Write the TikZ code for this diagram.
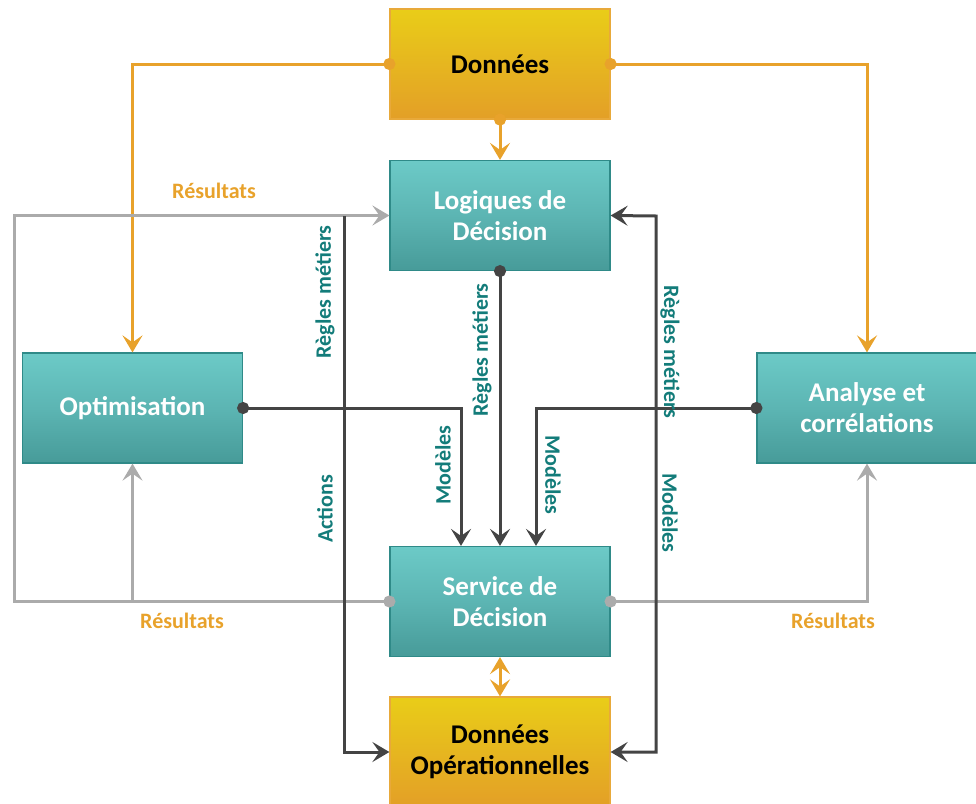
\documentclass[tikz,border=0pt]{standalone}
\usepackage{fontspec}
\setmainfont{Carlito}
\usetikzlibrary{arrows.meta}
\definecolor{tealtop}{HTML}{6CCAC7}
\definecolor{tealmid}{HTML}{5CB5B3}
\definecolor{tealbot}{HTML}{479B99}
\definecolor{tealborder}{HTML}{2F8A88}
\definecolor{goldtop}{HTML}{E9CD18}
\definecolor{goldbot}{HTML}{E39F27}
\definecolor{goldborder}{HTML}{E8A93A}
\definecolor{orangeline}{HTML}{E8A22B}
\definecolor{greyline}{HTML}{ABABAB}
\definecolor{darkline}{HTML}{444444}
\definecolor{labelteal}{HTML}{137C7A}
\tikzset{myarr/.tip={Stealth[length=17pt,width=20pt,inset=7pt]},
  mydot/.tip={Circle[length=12pt]}}
\begin{document}
\begin{tikzpicture}[x=1pt,y=-1pt,
  tealbox/.style={draw=tealborder, line width=1.2pt, top color=tealtop, bottom color=tealbot, middle color=tealmid,
    minimum width=220pt, minimum height=110pt, inner sep=0pt, text=white,
    font=\fontsize{27}{31}\selectfont\bfseries, align=center},
  goldbox/.style={draw=goldborder, line width=1.2pt, top color=goldtop, bottom color=goldbot,
    minimum width=220pt, minimum height=110pt, inner sep=0pt, text=black,
    font=\fontsize{27}{31}\selectfont\bfseries, align=center},
  dotstart/.style={shorten <=-6pt},
  oline/.style={draw=orangeline, line width=3pt},
  gline/.style={draw=greyline, line width=3pt},
  dline/.style={draw=darkline, line width=3pt},
  lbl/.style={font=\fontsize{22}{24}\selectfont\bfseries, text=labelteal, inner sep=0pt},
  olbl/.style={font=\fontsize{22}{24}\selectfont\bfseries, text=orangeline, inner sep=0pt},
]
\useasboundingbox (0,0) rectangle (976,803);

% boxes
\node[goldbox] (don) at (500,64) {Données};
\node[tealbox] (log) at (500,215.5) {Logiques de\\Décision};
\node[tealbox] (opt) at (132.5,408) {Optimisation};
\node[tealbox] (ana) at (867,408) {Analyse et\\corrélations};
\node[tealbox] (svc) at (500,601.5) {Service de\\Décision};
\node[goldbox] (dop) at (500,752) {Données\\Opérationnelles};

% helper coordinates
\coordinate (gleft) at (14,601.5);
\coordinate (rlA) at (344,216);
\coordinate (rrA) at (656,216);

% orange connectors
\draw[oline, mydot-myarr, dotstart] (don.west) -| (opt.north);
\draw[oline, mydot-myarr, dotstart] (don.east) -| (ana.north);
\draw[oline, mydot-myarr, dotstart] (don.south) -- (log.north);
\draw[oline, myarr-myarr] (svc.south) -- (dop.north);

% grey connectors
\draw[gline, mydot-myarr, dotstart] (svc.west) -- (gleft) |- (log.west);
\draw[gline, -myarr] (opt.south |- svc.west) -- (opt.south);
\draw[gline, mydot-myarr, dotstart] (svc.east) -| (ana.south);

% dark connectors
\draw[dline, mydot-myarr, dotstart] (log.south) -- (svc.north);
\draw[dline, mydot-myarr, dotstart] (opt.east) -| ([xshift=-39pt]svc.north);
\draw[dline, mydot-myarr, dotstart] (ana.west) -| ([xshift=36pt]svc.north);
\draw[dline, -myarr] (rlA) |- (dop.west);
\draw[dline, myarr-myarr] (log.east) -- (rrA) |- (dop.east);

% labels
\node[olbl] (r1) at (214,191) {Résultats};
\node[olbl] (r2) at (182,621) {Résultats};
\node[olbl] (r3) at (833,621) {Résultats};
\node[lbl, rotate=90] (l1) at (325,292) {Règles métiers};
\node[lbl, rotate=90] (l2) at (325,509) {Actions};
\node[lbl, rotate=90] (l3) at (482,350) {Règles métiers};
\node[lbl, rotate=90] (l4) at (443,465) {Modèles};
\node[lbl, rotate=-90] (l5) at (670,352) {Règles métiers};
\node[lbl, rotate=-90] (l6) at (553,475) {Modèles};
\node[lbl, rotate=-90] (l7) at (670,513) {Modèles};
\end{tikzpicture}
\end{document}
